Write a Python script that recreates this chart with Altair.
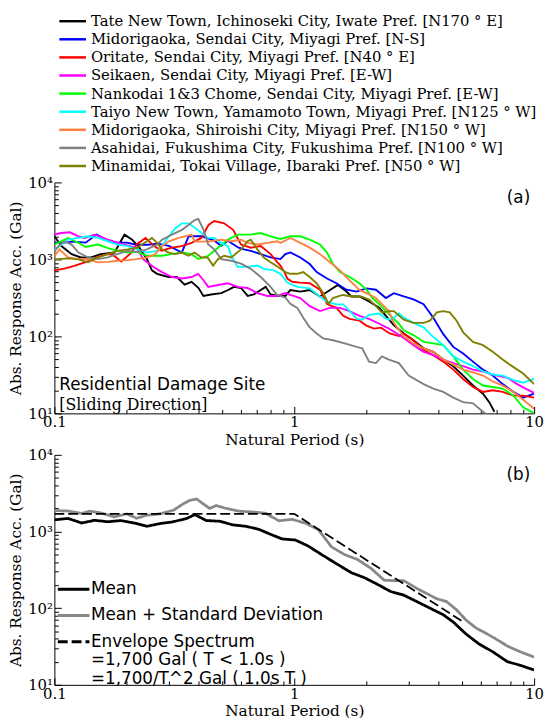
import altair as alt
import pandas as pd

# ---------------- data ----------------
site_names = [
    "Tate New Town, Ichinoseki City, Iwate Pref. [N170 ° E]",
    "Midorigaoka, Sendai City, Miyagi Pref. [N-S]",
    "Oritate, Sendai City, Miyagi Pref. [N40 ° E]",
    "Seikaen, Sendai City, Miyagi Pref. [E-W]",
    "Nankodai 1&3 Chome, Sendai City, Miyagi Pref. [E-W]",
    "Taiyo New Town, Yamamoto Town, Miyagi Pref. [N125 ° W]",
    "Midorigaoka, Shiroishi City, Miyagi Pref. [N150 ° W]",
    "Asahidai, Fukushima City, Fukushima Pref. [N100 ° W]",
    "Minamidai, Tokai Village, Ibaraki Pref. [N50 ° W]",
]
site_colors = ["#000000", "#0000FF", "#FF0000", "#FF00FF", "#00FF00",
               "#00FFFF", "#FF8040", "#808080", "#808000"]

tate_T = [0.099, 0.107, 0.118, 0.129, 0.142, 0.156, 0.178, 0.196, 0.211, 0.226,
          0.243, 0.255, 0.268, 0.281, 0.30, 0.324, 0.349, 0.373, 0.399, 0.418,
          0.45, 0.496, 0.53, 0.561, 0.60, 0.64, 0.678, 0.725, 0.76, 0.797,
          0.86, 0.918, 0.963, 1.06, 1.16, 1.28, 1.41, 1.52, 1.65, 1.73,
          1.87, 2.05, 2.26, 2.41, 2.6, 2.86, 3.14, 3.46, 3.8, 4.18,
          4.6, 5.06, 5.56, 6.12, 6.5, 6.83]
tate_acc = [2094, 1489, 1170, 1060, 1060, 1170, 1227, 2094, 1807, 1420,
            1010, 720, 650, 622, 590, 590, 470, 512, 425, 335,
            350, 365, 400, 440, 425, 335, 350, 400, 440, 350,
            335, 335, 400, 382, 400, 330, 400, 465, 382, 330,
            330, 285, 235, 185, 140, 109, 89, 70, 63, 50,
            41, 31, 23, 18, 14, 10.5]

blue_T = [0.10, 0.11, 0.12, 0.135, 0.15, 0.165, 0.18, 0.20, 0.22, 0.245,
          0.27, 0.30, 0.34, 0.363, 0.41, 0.464, 0.496, 0.529, 0.583, 0.617,
          0.659, 0.725, 0.797, 0.876, 0.918, 0.963, 1.06, 1.16, 1.24, 1.37,
          1.50, 1.65, 1.82, 2.0, 2.19, 2.41, 2.6, 2.86, 3.14, 3.46,
          3.8, 4.18, 4.6, 5.06, 5.56, 6.12, 6.72, 7.39, 8.2, 9.0, 10]
blue_acc = [1650, 1650, 1700, 1650, 2100, 1800, 1650, 1650, 1550, 1550,
            1600, 1500, 1230, 2000, 2000, 1750, 1500, 1750, 1430, 1350,
            1290, 1170, 1060, 1010, 1170, 1230, 1060, 870, 684, 564,
            490, 404, 382, 420, 404, 315, 364, 330, 302, 262,
            175, 107, 73, 60, 47, 37, 31, 24, 19, 16, 18]

red_T = [0.10, 0.11, 0.12, 0.135, 0.15, 0.165, 0.175, 0.19, 0.21, 0.22,
         0.24, 0.26, 0.28, 0.309, 0.34, 0.373, 0.41, 0.439, 0.464, 0.51,
         0.556, 0.60, 0.659, 0.725, 0.797, 0.851, 0.876, 0.918, 0.935, 0.98,
         1.06, 1.16, 1.28, 1.37, 1.50, 1.60, 1.70, 1.87, 2.0, 2.15,
         2.3, 2.5, 2.73, 2.86, 3.14, 3.46, 3.8, 4.18, 4.6, 5.06,
         5.56, 6.12, 6.72, 7.39, 8.2, 9.0, 10]
red_acc = [720, 760, 820, 920, 1060, 1170, 1150, 940, 1230, 1560,
           1900, 1490, 1300, 1420, 1490, 1640, 1900, 2800, 3150, 2940,
           2420, 1560, 1420, 1490, 1170, 917, 832, 650, 564, 512,
           500, 490, 404, 263, 235, 185, 169, 160, 138, 126,
           130, 109, 101, 109, 89, 66, 57, 47, 37, 28,
           22, 19, 20, 19, 17, 17, 16]

seikaen_T = [0.099, 0.107, 0.116, 0.126, 0.134, 0.147, 0.167, 0.195, 0.221, 0.235,
             0.26, 0.281, 0.309, 0.34, 0.373, 0.398, 0.423, 0.438, 0.481, 0.529,
             0.581, 0.639, 0.702, 0.772, 0.849, 0.918, 0.963, 1.06, 1.16, 1.28,
             1.41, 1.55, 1.70, 1.87, 2.05, 2.26, 2.48, 2.73, 2.86, 3.14,
             3.46, 3.8, 4.18, 4.6, 5.06, 5.56, 6.12, 6.72, 7.74, 8.5,
             9.2, 10]
seikaen_acc = [2094, 2200, 2250, 1995, 1900, 2094, 1807, 1560, 1400, 1000,
               790, 684, 590, 564, 590, 650, 512, 440, 465, 490,
               440, 425, 365, 335, 335, 365, 345, 314, 247, 213,
               235, 235, 213, 185, 169, 146, 126, 105, 95, 77,
               63, 57, 50, 45, 41, 37, 35, 32, 29, 24,
               21, 18.5]

green_T = [0.100, 0.104, 0.114, 0.126, 0.135, 0.152, 0.167, 0.183, 0.202, 0.221,
           0.243, 0.268, 0.281, 0.309, 0.340, 0.373, 0.398, 0.438, 0.481, 0.529,
           0.581, 0.659, 0.725, 0.797, 0.876, 0.963, 1.06, 1.16, 1.28, 1.37,
           1.45, 1.55, 1.70, 1.87, 2.0, 2.12, 2.26, 2.48, 2.73, 2.86,
           3.14, 3.46, 3.8, 4.18, 4.6, 5.06, 5.56, 6.12, 6.72, 7.39,
           8.2, 9.0, 10]
green_acc = [1560, 1650, 1900, 1640, 1450, 1560, 1400, 1300, 1230, 1250,
             1114, 1114, 1114, 1170, 1227, 1170, 1010, 1114, 1420, 1807,
             2094, 2094, 2200, 1995, 1840, 1995, 1995, 1807, 1560, 1227,
             870, 684, 590, 490, 404, 315, 263, 195, 146, 120,
             104, 85, 81, 77, 55, 37, 28, 23, 22, 21,
             17, 12, 10]

taiyo_T = [0.099, 0.107, 0.114, 0.126, 0.138, 0.152, 0.167, 0.183, 0.202, 0.221,
           0.243, 0.268, 0.281, 0.30, 0.318, 0.34, 0.362, 0.384, 0.41, 0.438,
           0.464, 0.496, 0.529, 0.546, 0.581, 0.639, 0.702, 0.746, 0.82, 0.876,
           0.935, 1.03, 1.16, 1.28, 1.37, 1.50, 1.60, 1.70, 1.82, 1.92,
           2.05, 2.26, 2.41, 2.55, 2.73, 2.86, 3.14, 3.46, 3.8, 4.18,
           4.6, 5.06, 5.56, 6.12, 6.72, 7.39, 8.2, 9.0, 10]
taiyo_acc = [1300, 1560, 1807, 1900, 1995, 1900, 1720, 1560, 1489, 1350,
             1227, 1290, 1500, 2000, 2500, 2940, 2940, 2600, 2200, 1900,
             1900, 1640, 1489, 1114, 800, 800, 832, 754, 720, 650,
             500, 440, 420, 330, 280, 260, 260, 215, 170, 165,
             190, 198, 170, 165, 200, 175, 150, 131, 98, 77,
             55, 47, 41, 35, 32, 31, 27, 25, 28]

shiroishi_T = [0.099, 0.105, 0.114, 0.126, 0.138, 0.152, 0.167, 0.183, 0.202, 0.221,
               0.243, 0.262, 0.281, 0.30, 0.33, 0.35, 0.373, 0.384, 0.41, 0.45,
               0.496, 0.546, 0.60, 0.639, 0.702, 0.772, 0.849, 0.876, 0.963, 1.06,
               1.16, 1.28, 1.41, 1.55, 1.70, 1.87, 2.0, 2.19, 2.32, 2.48,
               2.6, 2.86, 3.14, 3.46, 3.8, 4.18, 4.6, 5.06, 5.56, 6.12,
               6.72, 7.39, 8.2, 9.0, 10]
shiroishi_acc = [1060, 1350, 1060, 1010, 1000, 917, 930, 960, 980, 1010,
                 1060, 1150, 1489, 1720, 1900, 1995, 2094, 1720, 1700, 1720,
                 1807, 1720, 1807, 1640, 1560, 1640, 1720, 1640, 1900, 1640,
                 1420, 1170, 917, 720, 535, 400, 365, 315, 263, 213,
                 150, 100, 81, 70, 63, 50, 43, 37, 34, 31,
                 26, 23, 19, 15, 11.5]

asahidai_T = [0.099, 0.104, 0.11, 0.118, 0.126, 0.138, 0.152, 0.167, 0.18, 0.202,
              0.221, 0.243, 0.268, 0.281, 0.309, 0.34, 0.362, 0.384, 0.398, 0.417,
              0.438, 0.464, 0.496, 0.546, 0.60, 0.659, 0.725, 0.797, 0.849, 0.918,
              0.963, 1.03, 1.09, 1.16, 1.24, 1.32, 1.45, 1.65, 1.82, 1.92,
              2.05, 2.19, 2.32, 2.48, 2.73, 3.0, 3.46, 3.8, 4.18, 4.6,
              5.06, 5.56, 6.12, 6.4]
asahidai_acc = [1227, 1489, 1720, 1560, 1227, 1060, 1010, 1060, 1150, 1290,
                1250, 1350, 1560, 1800, 2094, 2420, 2800, 3250, 3350, 2500,
                1560, 1350, 1010, 960, 880, 754, 590, 440, 345, 320,
                265, 235, 175, 131, 109, 94, 89, 80, 73, 70,
                47, 45, 55, 50, 45, 31, 24, 21, 19, 16,
                14, 13.5, 10.5, 9.5]

minamidai_T = [0.099, 0.114, 0.126, 0.138, 0.152, 0.167, 0.183, 0.202, 0.221, 0.243,
               0.255, 0.268, 0.281, 0.30, 0.318, 0.34, 0.362, 0.384, 0.41, 0.435,
               0.459, 0.481, 0.51, 0.546, 0.60, 0.639, 0.659, 0.702, 0.746, 0.797,
               0.86, 0.918, 0.963, 1.03, 1.09, 1.16, 1.24, 1.32, 1.39, 1.45,
               1.59, 1.75, 1.9, 2.05, 2.19, 2.32, 2.48, 2.6, 2.86, 3.14,
               3.46, 3.68, 3.93, 4.18, 4.45, 4.75, 5.06, 5.56, 6.12, 6.72,
               7.39, 8.0, 9.0, 10]
minamidai_acc = [1000, 1030, 1000, 917, 1060, 1170, 1290, 1350, 1420, 1720,
                 1900, 1640, 1350, 1227, 1170, 1227, 1114, 1227, 1060, 1060,
                 832, 1010, 1114, 1060, 1350, 1720, 1807, 1350, 1060, 917,
                 790, 684, 650, 650, 684, 590, 490, 365, 265, 315,
                 345, 330, 330, 300, 247, 205, 213, 213, 165, 150,
                 150, 160, 205, 213, 205, 160, 113, 85, 77, 63,
                 50, 42, 33, 24]

site_T = [tate_T, blue_T, red_T, seikaen_T, green_T, taiyo_T,
          shiroishi_T, asahidai_T, minamidai_T]
site_acc = [tate_acc, blue_acc, red_acc, seikaen_acc, green_acc, taiyo_acc,
            shiroishi_acc, asahidai_acc, minamidai_acc]

series_names = ["Mean", "Mean + Standard Deviation", "Envelope Spectrum"]
series_colors = ["#000000", "#888888", "#000000"]

mean_T = [0.10, 0.114, 0.13, 0.147, 0.167, 0.189, 0.215, 0.243, 0.276, 0.31,
          0.356, 0.385, 0.43, 0.49, 0.554, 0.628, 0.71, 0.81, 0.89, 1.01,
          1.14, 1.30, 1.52, 1.73, 1.96, 2.22, 2.52, 2.86, 3.24, 3.68,
          4.18, 4.6, 5.2, 5.9, 6.72, 7.74, 8.75, 10]
mean_acc = [1420, 1480, 1290, 1400, 1340, 1390, 1290, 1170, 1270, 1330,
            1480, 1660, 1390, 1360, 1220, 1170, 1070, 900, 800, 775,
            650, 500, 370, 290, 250, 205, 165, 148, 122, 100,
            82, 66, 46, 34, 27, 20, 18, 15.6]

sd_T = [0.10, 0.114, 0.13, 0.14, 0.155, 0.178, 0.20, 0.22, 0.243, 0.276,
        0.314, 0.345, 0.367, 0.392, 0.417, 0.444, 0.473, 0.52, 0.59, 0.67,
        0.76, 0.862, 0.978, 1.11, 1.26, 1.43, 1.62, 1.84, 2.09, 2.37,
        2.6, 2.86, 3.25, 3.57, 3.92, 4.31, 4.75, 5.2, 5.73, 6.3,
        6.9, 7.74, 8.75, 10]
sd_acc = [1880, 1850, 1720, 1840, 1760, 1550, 1700, 1490, 1630, 1700,
          1900, 2300, 2550, 2650, 2300, 2000, 2180, 2000, 1840, 1800,
          1730, 1380, 1440, 1290, 1060, 630, 500, 430, 330, 232,
          228, 229, 180, 155, 133, 122, 95, 70, 55, 47,
          40, 32, 27, 23]

envelope_T = [0.1, 1.0, 5.0]
envelope_acc = [1700, 1700, 68]

series_T = [mean_T, sd_T, envelope_T]
series_acc = [mean_acc, sd_acc, envelope_acc]

x_major = [0.1, 1, 10]
x_minor = [0.1, 0.2, 0.3, 0.4, 0.5, 0.6, 0.7, 0.8, 0.9,
           1, 2, 3, 4, 5, 6, 7, 8, 9, 10]
y_major = [10, 100, 1000, 10000]
y_minor = [10, 20, 30, 40, 50, 60, 70, 80, 90,
           100, 200, 300, 400, 500, 600, 700, 800, 900,
           1000, 2000, 3000, 4000, 5000, 6000, 7000, 8000, 9000, 10000]

panel_tags = ["(a)", "(b)"]
site_note = ["Residential Damage Site", "[Sliding Direction]"]
envelope_note = ["=1,700 Gal ( T < 1.0s )", "=1,700/T^2 Gal ( 1.0s   T )"]

x_title = "Natural Period (s)"
y_title = "Abs. Response Acc. (Gal)"

# ---------------- tables ----------------
rows = []
for name, ts, accs in zip(site_names, site_T, site_acc):
    for t, a in zip(ts, accs):
        rows.append({"site": name, "T": t, "acc": a})
df_a = pd.DataFrame(rows)
df_sites = pd.DataFrame({"site": site_names})

rows = []
for name, ts, accs in zip(series_names, series_T, series_acc):
    for t, a in zip(ts, accs):
        rows.append({"series": name, "T": t, "acc": a})
df_b = pd.DataFrame(rows)

# ---------------- styling ----------------
W = 486
HA = 234
HB = 233
SERIF = "DejaVu Serif"
SANS = "DejaVu Sans"

xscale = alt.Scale(type="log", domain=[0.1, 10])
yscale = alt.Scale(type="log", domain=[10, 10000])
site_color = alt.Scale(domain=site_names, range=site_colors)
# legend rows of panel (a) sit above the plot area
site_rows = alt.Scale(type="point", domain=site_names, range=[-163.3, -16.6], padding=0)

X_MAJOR_TEST = "datum.value == 0.1 || datum.value == 1 || datum.value == 10"
Y_MAJOR_TEST = ("datum.value == 10 || datum.value == 100 || "
                "datum.value == 1000 || datum.value == 10000")


def x_axis():
    return alt.Axis(orient="bottom", values=x_major,
                    labelExpr="datum.value < 0.5 ? '0.1' : (datum.value < 5 ? '1' : '10')",
                    ticks=False, tickSize=0, labelPadding=1.5, labelFlush=False,
                    title=x_title, titlePadding=3, grid=False,
                    domainColor="black", domainWidth=1)


def y_axis():
    return alt.Axis(orient="left", values=y_major,
                    labelExpr="'10' + (datum.value < 50 ? '¹' : (datum.value < 500 ? '²' : (datum.value < 5000 ? '³' : '⁴')))",
                    ticks=False, tickSize=0, labelPadding=2,
                    title=y_title, titlePadding=4, grid=False,
                    domainColor="black", domainWidth=1)


def x_tick_axis(h):
    return alt.Axis(orient="top", offset=-h, values=x_minor, labels=False,
                    domain=False, ticks=True, tickColor="black", tickWidth=1,
                    tickSize={"condition": {"test": X_MAJOR_TEST, "value": 7}, "value": 4},
                    title=None, grid=False)


def y_tick_axis():
    return alt.Axis(orient="right", offset=-W, values=y_minor, labels=False,
                    domain=False, ticks=True, tickColor="black", tickWidth=1,
                    tickSize={"condition": {"test": Y_MAJOR_TEST, "value": 7}, "value": 4},
                    title=None, grid=False)


def note(text, x, y, font, size, align="left"):
    return alt.Chart(pd.DataFrame({"t": [text]})).mark_text(
        font=font, fontSize=size, align=align, baseline="middle", color="black"
    ).encode(x=alt.value(x), y=alt.value(y), text="t:N")


# ---------------- panel (a) ----------------
lines_a = alt.Chart(df_a).mark_line(strokeWidth=1.9, clip=True).encode(
    x=alt.X("T:Q", scale=xscale, axis=x_axis()),
    y=alt.Y("acc:Q", scale=yscale, axis=y_axis()),
    color=alt.Color("site:N", scale=site_color, legend=None),
)
ticks_a = alt.Chart(df_a).mark_line(opacity=0).encode(
    x=alt.X("T:Q", scale=xscale, axis=x_tick_axis(HA)),
    y=alt.Y("acc:Q", scale=yscale, axis=y_tick_axis()),
    detail="site:N",
)
key_lines_a = alt.Chart(df_sites).mark_rule(strokeWidth=2.5).encode(
    x=alt.value(5), x2=alt.value(32),
    y=alt.Y("site:N", scale=site_rows, axis=None),
    color=alt.Color("site:N", scale=site_color, legend=None),
)
key_text_a = alt.Chart(df_sites).mark_text(
    font=SERIF, fontSize=15, align="left", baseline="middle", color="black"
).encode(
    x=alt.value(37),
    y=alt.Y("site:N", scale=site_rows, axis=None),
    text="site:N",
)
panel_a = alt.layer(
    lines_a, ticks_a, key_lines_a, key_text_a,
    note(panel_tags[0], W - 4, 16, SANS, 17, "right"),
    note(site_note[0], 5, 205, SANS, 17),
    note(site_note[1], 5, 226, SERIF, 16),
).resolve_scale(y="independent").resolve_axis(
    x="independent", y="independent"
).properties(width=W, height=HA)

# ---------------- panel (b) ----------------
legend_b = alt.Legend(title=None, orient="none", legendX=2, legendY=118.6,
                      direction="vertical", symbolType="stroke", symbolSize=1024,
                      symbolStrokeWidth=3, labelFont=SANS, labelFontSize=17,
                      labelColor="black", labelLimit=1000, labelOffset=0,
                      rowPadding=0.6, padding=0, offset=0)

lines_b = alt.Chart(df_b).mark_line(clip=True).encode(
    x=alt.X("T:Q", scale=xscale, axis=x_axis()),
    y=alt.Y("acc:Q", scale=yscale, axis=y_axis()),
    color=alt.Color("series:N", scale=alt.Scale(domain=series_names, range=series_colors),
                    legend=legend_b),
    strokeDash=alt.StrokeDash("series:N",
                              scale=alt.Scale(domain=series_names,
                                              range=[[1, 0], [1, 0], [10, 4]]),
                              legend=legend_b),
    strokeWidth=alt.condition(alt.datum.series == series_names[2],
                              alt.value(1.8), alt.value(2.8)),
)
ticks_b = alt.Chart(df_b).mark_line(opacity=0).encode(
    x=alt.X("T:Q", scale=xscale, axis=x_tick_axis(HB)),
    y=alt.Y("acc:Q", scale=yscale, axis=y_tick_axis()),
    detail="series:N",
)
panel_b = alt.layer(
    lines_b, ticks_b,
    note(panel_tags[1], W - 4, 20, SANS, 17, "right"),
    note(envelope_note[0], 37, 207.5, SANS, 17),
    note(envelope_note[1], 37, 227, SANS, 17),
).resolve_axis(x="independent", y="independent").properties(width=W, height=HB)

chart = alt.vconcat(panel_a, panel_b, spacing=0).resolve_scale(
    color="independent", strokeDash="independent"
).properties(
    padding={"top": 1, "bottom": 0, "left": 0, "right": 0}, background="white"
).configure_view(
    stroke=None
).configure_axis(
    labelFont=SERIF, labelFontSize=15, labelColor="black",
    titleFont=SERIF, titleFontSize=15.5, titleFontWeight="normal", titleColor="black",
)

chart.save("out.html", embed_options={"renderer": "svg", "actions": False})
